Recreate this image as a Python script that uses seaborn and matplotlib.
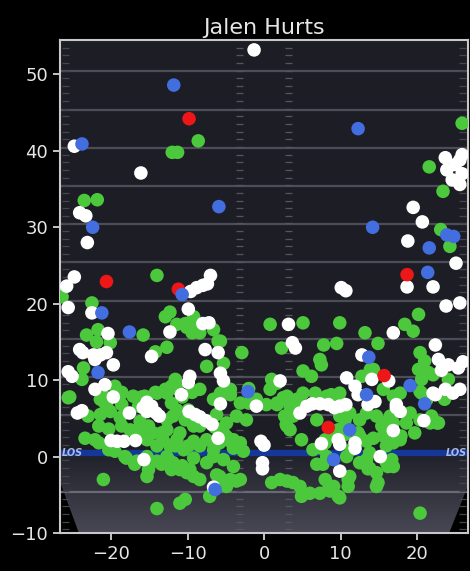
import numpy as np
import pandas as pd
import matplotlib
matplotlib.use("Agg")
import matplotlib.pyplot as plt
from matplotlib.patches import Polygon, Rectangle
import seaborn as sns

# Pass locations (x: yards from field centre, y: air yards past line of scrimmage)
complete = [
    (25.9, 43.6), (21.6, 37.9), (23.4, 34.7), (-8.6, 41.3), (-12.0, 39.8), (-11.3, 39.8),
    (-23.5, 33.5), (-21.8, 33.6), (23.1, 29.7), (24.3, 27.5),
    (-14.0, 23.7), (-26.4, 20.9), (-22.5, 20.1),
    (-12.9, 18.3), (-12.3, 18.9), (-11.4, 17.3), (-10.1, 16.9), (-9.4, 16.2), (-8.4, 16.2),
    (-10.3, 17.4), (-9.4, 17.7), (-9.2, 18.3), (-8.8, 17.0), (-6.6, 16.6), (-6.0, 15.1),
    (-5.7, 15.1), (-15.8, 15.9), (-23.2, 15.9), (-21.7, 16.6), (-21.9, 15.0), (-20.1, 14.9),
    (-12.7, 14.3), (-14.2, 13.7), (-23.6, 11.6), (-23.8, 10.1), (-25.4, 7.8), (-20.8, 7.8),
    (-19.5, 9.2), (-18.6, 8.4), (-16.0, 7.8), (-14.2, 8.4), (-12.9, 8.8), (-12.1, 9.2),
    (-11.6, 10.1), (-10.7, 7.8), (-9.4, 8.4), (-7.5, 11.8), (-5.3, 12.2), (-2.9, 13.6),
    (-2.0, 8.9), (-4.4, 8.1), (-1.0, 7.5), (-3.1, 7.0), (-6.6, 7.5), (-5.7, 8.3), (-8.4, 8.8),
    (0.8, 17.3), (5.1, 17.5), (2.3, 14.2), (7.8, 14.6), (9.5, 14.8), (7.3, 12.7), (7.5, 12.0),
    (5.1, 11.2), (6.2, 10.5), (1.0, 10.1), (0.8, 8.8), (2.5, 7.7), (1.7, 7.0),
    (9.9, 17.5), (13.2, 16.2), (14.9, 14.8), (18.4, 17.3), (19.5, 16.4), (20.2, 18.6),
    (20.4, 13.6), (21.0, 12.5), (20.2, 11.4), (21.5, 11.0), (20.6, 10.1), (14.3, 11.4),
    (12.8, 10.5), (24.1, 10.1), (20.6, 8.3), (8.8, 8.1), (10.1, 7.0), (8.0, 7.0), (13.9, 11.4),
    (22.1, 10.7),
    (-25.6, 7.7), (-21.4, 7.5), (-20.6, 7.0), (-18.6, 8.3), (-17.1, 7.9), (-15.6, 7.9),
    (-14.0, 8.3), (-12.7, 8.3), (-11.4, 8.9), (-4.4, 8.8), (-2.0, 7.0), (0.3, 6.8), (1.7, 9.6),
    (3.0, 7.9), (4.3, 7.5), (5.1, 8.3), (6.7, 8.3), (8.2, 7.9), (9.1, 7.0), (9.9, 8.3),
    (15.6, 8.8), (16.9, 7.9), (17.8, 8.3), (20.4, 8.5), (21.3, 7.5), (23.6, 7.5),
    (-23.0, 5.3), (-21.4, 5.5), (-20.1, 5.9), (-18.8, 5.1), (-20.8, 7.0), (-18.6, 6.8),
    (-16.4, 6.6), (-12.1, 7.0), (-9.9, 6.1), (-16.2, 4.6), (-12.7, 4.8), (-11.9, 5.3),
    (-11.4, 6.1), (-10.3, 4.8), (-4.9, 4.4), (-6.2, 5.5), (-3.6, 5.3), (-2.3, 4.8), (2.7, 5.3),
    (3.0, 4.0), (3.8, 5.3), (6.9, 4.8), (9.9, 5.3), (11.2, 5.7), (12.5, 4.8), (13.4, 5.7),
    (14.7, 5.3), (15.6, 4.4), (16.5, 5.3), (19.1, 5.7), (20.4, 4.8), (21.7, 4.4), (22.6, 4.4),
    (18.6, 4.4), (16.9, 4.4), (1.7, 6.8), (3.4, 6.6), (4.3, 7.0), (21.9, 5.3), (22.8, 4.4),
    (10.6, 4.8), (15.4, 4.0),
    (-21.6, 4.0), (-20.3, 3.6), (-18.6, 4.0), (-16.4, 3.6), (-15.1, 4.0), (-13.4, 3.1),
    (-23.4, 2.4), (-21.6, 1.8), (-20.3, 0.9), (-22.1, 2.2), (-19.5, 0.7), (-17.5, 3.5),
    (-16.2, 2.9), (-15.3, 2.2), (-14.5, 3.1), (-14.0, 1.4), (-13.2, 2.2), (-12.3, 1.4),
    (-11.4, 2.2), (-10.5, 0.9), (-9.2, 2.0), (-8.4, 1.4), (-7.5, 2.2), (-6.6, 0.9), (-5.8, 1.8),
    (-4.9, 2.6), (-4.0, 2.2), (-3.1, 1.8), (-8.4, 4.0), (-11.0, 3.1), (-12.7, 3.5), (-9.2, 4.0),
    (-6.4, 3.8), (-5.3, 3.1), (-4.4, 2.0), (-2.7, 0.7), (-4.0, 1.1), (-9.9, 1.4), (-11.6, 1.4),
    (4.9, 2.2), (6.4, 0.9), (8.0, 2.2), (9.1, 2.7), (10.6, 2.9), (12.5, 2.7), (13.4, 2.0),
    (14.3, 2.4), (16.0, 1.4), (16.9, 1.8), (17.8, 2.2), (15.6, 2.7), (8.0, 1.8), (9.7, 3.5),
    (11.4, 0.9), (12.3, 3.1), (17.9, 2.7), (19.7, 3.1), (2.9, 4.2), (3.4, 3.5), (7.5, 1.1),
    (13.8, 0.5), (10.8, 0.0), (8.2, 0.0),
    (-18.0, -0.2), (-16.6, -0.6), (-15.3, 0.0), (-14.0, -0.6), (-12.7, 0.0), (-11.9, -0.8),
    (-11.0, -1.7), (-10.1, -2.1), (-9.2, -2.6), (-8.4, -3.0), (-15.3, -2.6), (-21.0, -3.0),
    (-9.2, -0.2), (-7.5, -0.8), (-6.6, 0.0), (-5.3, -0.4), (-4.0, -1.3), (-3.1, -3.0),
    (-4.4, -3.0), (-6.2, -2.4), (-5.6, -3.4), (-7.1, -5.2), (-10.3, -5.6), (-11.0, -6.1),
    (-14.0, -6.8), (-16.9, -1.0), (-15.1, -1.7), (-13.4, -1.0), (-12.1, -1.7), (-10.7, -1.2),
    (-9.7, -1.7), (-5.8, -2.6), (-4.9, -3.9), (-3.6, -3.2), (-18.2, 0.0), (-12.5, -0.4),
    (1.0, -3.4), (2.1, -3.0), (3.0, -3.2), (3.8, -3.4), (4.7, -3.9), (4.9, -5.2), (6.0, -4.8),
    (7.3, -4.8), (8.6, -4.5), (9.9, -5.4), (9.1, -3.9), (8.0, -3.0), (7.7, -1.0), (6.9, -1.0),
    (11.2, -2.6), (11.0, -3.9), (12.5, -0.8), (13.8, -1.5), (14.7, -2.1), (15.2, 0.0),
    (16.0, -0.8), (16.9, -1.3), (14.7, -3.9), (13.4, -0.4), (13.6, -1.6), (14.9, -3.4),
    (16.2, -1.3), (16.7, -0.4), (11.0, -3.0), (9.7, -5.2), (8.4, -4.3), (20.4, -7.4),
]

incomplete = [
    (-1.3, 53.2), (-24.8, 40.6), (-16.1, 37.1),
    (23.7, 39.1), (23.9, 37.5), (25.0, 38.2), (25.6, 38.8), (24.6, 36.2), (25.6, 35.6),
    (25.9, 37.0), (25.9, 39.5),
    (-24.1, 31.9), (-23.3, 31.5), (-23.1, 28.0),
    (19.5, 32.6), (20.7, 30.7), (18.8, 28.2), (25.1, 25.3),
    (18.7, 22.2), (22.1, 22.2), (23.8, 19.7), (25.6, 20.1), (10.1, 22.1), (10.7, 21.7),
    (-24.8, 23.5), (-25.8, 22.3), (-25.6, 19.5),
    (-8.8, 22.1), (-8.0, 22.4), (-7.4, 22.6), (-7.0, 23.7), (-9.6, 21.6),
    (-22.5, 18.8), (-9.9, 19.3), (-12.3, 16.3), (-20.4, 16.1), (-8.0, 17.4), (-7.2, 17.5),
    (3.2, 17.3), (3.7, 14.9), (4.1, 14.2), (16.9, 16.2), (22.4, 14.6),
    (-24.1, 14.0), (-23.7, 13.6), (-22.3, 13.3), (-21.4, 13.3), (-20.6, 13.6), (-19.7, 12.0),
    (-22.1, 12.7), (-14.7, 13.1), (-7.7, 14.0), (-6.0, 13.6), (12.8, 13.3),
    (-25.6, 11.1), (-25.1, 10.5), (-22.1, 8.8), (-20.8, 9.4), (-19.7, 7.8),
    (-9.7, 10.5), (-9.9, 9.7), (-5.7, 10.9), (-5.3, 9.9), (2.1, 9.9),
    (10.8, 10.3), (14.1, 10.1), (16.3, 9.9),
    (22.8, 12.7), (24.1, 12.0), (25.4, 11.6), (23.2, 11.3), (26.0, 12.4),
    (11.9, 9.2), (12.3, 8.1), (14.5, 7.2), (17.3, 6.8), (22.4, 8.1), (23.7, 8.8), (24.7, 8.3),
    (25.6, 8.8), (22.1, 8.3),
    (-10.8, 8.1), (-15.3, 7.1), (-5.7, 6.9), (-1.0, 6.6),
    (-24.4, 5.7), (-23.8, 6.0), (-17.6, 5.7), (-15.8, 6.4), (-14.7, 6.6), (-14.1, 5.7),
    (-13.7, 5.3), (-15.3, 5.9),
    (-9.8, 5.9), (-9.0, 5.5), (-8.4, 5.2), (-7.6, 4.7), (-6.8, 4.2),
    (4.7, 5.7), (5.6, 6.6), (6.3, 6.9), (7.3, 6.9), (8.4, 6.8), (9.2, 6.4), (9.9, 6.6),
    (10.7, 6.8), (13.6, 6.8), (17.3, 6.4), (17.8, 5.9), (20.9, 4.7),
    (-20.0, 2.1), (-19.2, 2.0), (-18.3, 2.0), (-16.8, 2.1),
    (-6.0, 2.4), (-0.4, 2.0), (0.0, 1.5),
    (7.5, 1.7), (9.7, 2.2), (9.9, 1.6), (11.9, 1.8), (11.9, 1.1), (16.9, 3.4),
    (-15.7, -0.4), (15.2, 0.0), (-0.2, -0.8), (-0.2, -1.6), (9.9, -1.9), (-6.6, -4.0),
]

interception = [
    (-20.6, 22.9), (-9.8, 44.2), (-11.2, 21.9), (18.7, 23.8), (15.7, 10.6), (8.4, 3.8),
]

touchdown = [
    (-11.8, 48.6), (-23.8, 40.9), (12.3, 42.9), (-5.9, 32.7), (-22.4, 30.0), (14.2, 30.0),
    (21.6, 27.3), (23.9, 29.0), (24.8, 28.8), (21.4, 24.1), (-10.7, 21.2), (-21.2, 18.8),
    (-17.6, 16.3), (-21.7, 11.0), (13.7, 13.0), (-2.1, 8.5), (19.1, 9.3), (13.4, 8.1),
    (21.0, 6.9), (11.2, 3.5), (9.1, -0.4), (-6.4, -4.3),
]

outcomes = ["Complete", "Incomplete", "Interception", "Touchdown"]
outcome_colors = ["#4cc83c", "#ffffff", "#ee1616", "#426ee0"]

frames = []
for name, pts in zip(outcomes, [complete, incomplete, interception, touchdown]):
    arr = np.array(pts)
    frames.append(pd.DataFrame({"x": arr[:, 0], "y": arr[:, 1], "result": name}))
passes = pd.concat(frames, ignore_index=True)

sns.set_style("dark")
plt.rcParams["font.family"] = ["DejaVu Sans"]

fig = plt.figure(figsize=(4.70, 5.71), dpi=100, facecolor="black")
ax = fig.add_axes([0.1277, 0.0665, 0.8681, 0.8635])
ax.set_facecolor("black")

XMIN, XMAX, YMIN, YMAX = -26.67, 26.67, -10, 54.5
LOS = 0.5

# field turf above the line of scrimmage
ax.add_patch(Rectangle((XMIN, LOS), XMAX - XMIN, YMAX - LOS, facecolor="#1d1d26",
                       edgecolor="none", zorder=0))

# lit backfield behind the line of scrimmage
grad = np.linspace(0, 1, 256)[:, None]
c_top = np.array([32, 32, 42]) / 255
c_bot = np.array([72, 72, 84]) / 255
img = c_top[None, None, :] * (1 - grad[..., None]) + c_bot[None, None, :] * grad[..., None]
img = np.repeat(img, 4, axis=1)
backfield = Polygon([(XMIN, LOS), (XMAX, LOS), (XMAX, -3.8), (24.2, YMIN),
                     (-24.2, YMIN), (XMIN, -3.3)], closed=True, facecolor="none",
                    edgecolor="none")
ax.add_patch(backfield)
im = ax.imshow(img, extent=(XMIN, XMAX, YMIN, LOS), aspect="auto", origin="upper",
               zorder=0.5)
im.set_clip_path(backfield)

# yard lines every five yards
for yl in np.arange(LOS - 5, YMAX, 5):
    if abs(yl - LOS) < 0.01:
        continue
    ax.axhline(yl - 0.1, color="#4d4d58" if yl > 0 else "#6a6a76", lw=1.6, zorder=1)

# hash marks and sideline ticks
yard_ticks = np.arange(-9.5, YMAX, 1.0)
for hx in (-3.2, 3.2):
    ax.hlines(yard_ticks, hx - 0.45, hx + 0.45, color="#55555f", lw=0.9, zorder=1)
for sx in (-25.9, 25.9):
    ax.hlines(yard_ticks, sx - 0.45, sx + 0.45, color="#45454f", lw=0.9, zorder=1)

# line of scrimmage
ax.axhline(LOS, color="#15379a", lw=4.5, zorder=2)
ax.text(-26.5, LOS, "LOS", ha="left", va="center", fontsize=7, fontstyle="italic",
        fontweight="bold", color="#aebbe0", zorder=3)
ax.text(26.5, LOS, "LOS", ha="right", va="center", fontsize=7, fontstyle="italic",
        fontweight="bold", color="#aebbe0", zorder=3)

sns.scatterplot(data=passes, x="x", y="y", hue="result", hue_order=outcomes,
                palette=outcome_colors, s=95, linewidth=0, alpha=1, legend=False,
                ax=ax, zorder=5)

ax.set_xlim(XMIN, XMAX)
ax.set_ylim(YMIN, YMAX)
ax.set_xticks([-20, -10, 0, 10, 20])
ax.set_yticks([-10, 0, 10, 20, 30, 40, 50])
ax.set_xlabel("")
ax.set_ylabel("")
ax.grid(False)
ax.tick_params(colors="#e6e6e6", labelsize=13, length=5, width=1.2,
               bottom=True, left=True)
for sp in ax.spines.values():
    sp.set_visible(True)
    sp.set_color("#c8c8c8")
    sp.set_linewidth(1.5)
ax.set_title("Jalen Hurts", color="#e6e6e6", fontsize=16, pad=4)

fig.savefig("out.png", dpi=100, facecolor="black")
